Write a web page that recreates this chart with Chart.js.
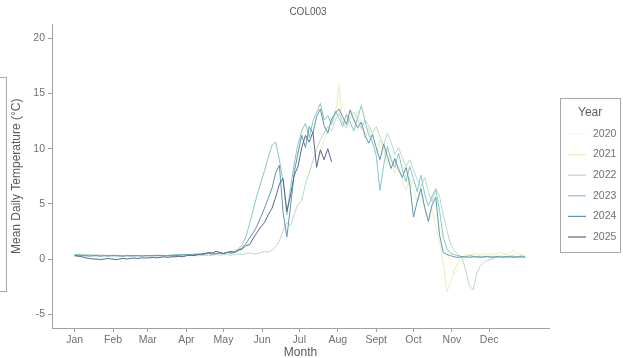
<!DOCTYPE html>
<html>
<head>
<meta charset="utf-8">
<script src="https://cdn.jsdelivr.net/npm/chart.js@4.4.1/dist/chart.umd.min.js"></script>
<style>
  html, body { margin: 0; padding: 0; background: #ffffff; }
  #wrap { width: 623px; height: 358px; }
</style>
</head>
<body>
<div id="wrap"><canvas id="c" width="623" height="358"></canvas></div>
<script>
// Site COL003: mean daily water temperature by year, sampled every 3rd day of the year
const years = ['2020', '2021', '2022', '2023', '2024', '2025'];
const yearColors = ['#f5f6e0', '#eaedc6', '#b9d8ca', '#86c8c6', '#6095ad', '#5d6487'];

const monthLabels = ['Jan', 'Feb', 'Mar', 'Apr', 'May', 'Jun', 'Jul', 'Aug', 'Sept', 'Oct', 'Nov', 'Dec'];
const monthStartDays = [1, 32, 60, 91, 121, 152, 182, 213, 244, 274, 305, 335];
const yTicks = [-5, 0, 5, 10, 15, 20];

const sampleStep = 3;

// first sampled day of year for each series
const startDay2020 = 214;
const startDay2021 = 199;
const startDay2022 = 1;
const startDay2023 = 1;
const startDay2024 = 1;
const startDay2025 = 1;

const temp2020 = [
  13.0, 14.2, 12.8, 13.6, 12.9, 11.7, 12.6, 11.3, 12.0, 10.9,
  11.5, 10.2, 9.1, 10.0, 8.7, 9.3, 7.9, 8.6, 7.4, 6.5,
  7.2, 6.3, 5.1, 5.8, 4.4, 3.5, 4.1, 2.8, 1.9, 0.8, -0.5,
  -1.5, -0.8, 0.1, 0.3, 0.4, 0.3, 0.5, 0.4, 0.3, 0.4,
  0.3, 0.4, 0.3, 0.5, 0.4, 0.3, 0.4, 0.5, 0.3, 0.3
];

const temp2021 = [
  9.5, 10.8, 11.6, 12.4, 13.0,
  15.8, 12.2, 13.1, 11.8, 12.5, 13.4, 12.2, 10.9, 11.8, 10.5,
  9.6, 10.8, 9.9, 8.6, 9.4, 7.8, 8.5, 7.1, 6.2, 7.3,
  6.4, 5.2, 6.0, 4.6, 3.8, 4.5, 2.9, 1.6, -0.4, -3.0, -2.0,
  -1.0, -0.3, 0.2, 0.4, 0.3, 0.5, 0.4, 0.3, 0.5, 0.4,
  0.5, 0.4, 0.6, 0.5, 0.4, 0.6, 0.8, 0.5, 0.4, 0.3
];

const temp2022 = [
  0.4, 0.4, 0.45, 0.4, 0.4, 0.35, 0.4, 0.35, 0.35, 0.3, 0.35,
  0.35, 0.3, 0.3, 0.35, 0.3, 0.3, 0.3, 0.35, 0.3,
  0.3, 0.3, 0.25, 0.3, 0.3, 0.3, 0.25, 0.3, 0.3, 0.3,
  0.3, 0.3, 0.35, 0.3, 0.3, 0.35, 0.3, 0.35, 0.4, 0.35,
  0.4, 0.4, 0.35, 0.4, 0.45, 0.4, 0.5, 0.55, 0.45, 0.5, 0.6,
  0.7, 0.6, 0.8, 1.1, 1.6, 2.6, 3.3, 3.0, 4.1, 5.0,
  5.3, 6.8, 7.8, 8.9, 10.0, 10.8, 11.4, 12.0, 11.6, 12.6,
  13.2, 12.4, 11.9, 12.9, 13.3, 12.7, 11.8, 12.6, 12.1, 11.4,
  12.0, 11.1, 10.3, 11.4, 10.6, 9.5, 10.1, 9.2, 8.4, 9.0,
  8.1, 7.2, 6.5, 7.4, 6.1, 5.2, 6.4, 5.7, 4.0, 2.6, 1.3,
  0.8, 0.4, 0.2, -1.0, -2.4, -2.8, -1.3, -0.6, -0.3, -0.1,
  0.0, 0.1, 0.2, 0.25, 0.2, 0.3, 0.25, 0.2, 0.3, 0.2
];

const temp2023 = [
  0.4, 0.4, 0.35, 0.3, 0.35, 0.3, 0.3, 0.3, 0.3, 0.25, 0.3,
  0.3, 0.25, 0.3, 0.3, 0.25, 0.3, 0.3, 0.3, 0.3,
  0.3, 0.3, 0.3, 0.35, 0.3, 0.3, 0.35, 0.4, 0.4, 0.35,
  0.4, 0.4, 0.45, 0.4, 0.45, 0.5, 0.5, 0.45, 0.5, 0.5,
  0.5, 0.6, 0.5, 0.7, 0.9, 1.3, 2.0, 3.2, 4.5, 5.8, 6.9,
  8.0, 9.2, 10.3, 10.6, 9.0, 7.0, 4.0, 6.5, 8.7, 10.4,
  11.6, 12.3, 11.0, 12.5, 13.3, 14.1, 12.6, 13.0, 12.2, 13.4,
  12.8, 12.0, 13.1, 12.4, 11.6, 12.8, 13.9, 12.5, 11.2, 10.6,
  9.4, 6.2, 8.5, 10.2, 9.0, 8.3, 9.6, 8.1, 7.0, 8.4,
  7.3, 6.1, 7.6, 5.9, 4.8, 5.7, 6.3, 4.4, 2.0, 0.9, 0.5,
  0.4, 0.3, 0.2, 0.2, 0.3, 0.25, 0.2, 0.2, 0.2, 0.25,
  0.2, 0.2, 0.25, 0.2, 0.2, 0.2, 0.2, 0.2, 0.2, 0.2
];

const temp2024 = [
  0.3, 0.35, 0.3, 0.3, 0.25, 0.3, 0.3, 0.25, 0.3, 0.3, 0.3,
  0.3, 0.3, 0.25, 0.3, 0.3, 0.3, 0.3, 0.25, 0.3,
  0.3, 0.3, 0.35, 0.3, 0.3, 0.3, 0.35, 0.3, 0.35, 0.4,
  0.4, 0.35, 0.4, 0.45, 0.4, 0.45, 0.5, 0.45, 0.5, 0.55,
  0.5, 0.6, 0.55, 0.6, 0.8, 1.0, 1.4, 1.9, 2.4, 3.0, 3.8,
  4.6, 5.5, 6.4, 7.8, 8.5, 4.2, 2.0, 4.8, 7.9, 9.6,
  11.2, 10.1, 12.0, 11.4, 12.9, 13.6, 12.1, 11.4, 12.7, 13.2,
  13.6, 12.9, 12.2, 13.5, 12.6, 11.9, 12.4, 11.2, 10.5, 11.3,
  10.1, 9.0, 10.4, 9.3, 8.2, 9.1, 8.1, 7.4, 8.3, 6.8,
  3.8, 5.2, 6.4, 4.7, 3.4, 4.9, 5.6, 2.2, 0.6, 0.4, 0.3,
  0.2, 0.15, 0.2, 0.2, 0.15, 0.2, 0.2, 0.15, 0.2, 0.2,
  0.15, 0.2, 0.2, 0.15, 0.2, 0.2, 0.15, 0.2, 0.2, 0.15
];

const temp2025 = [
  0.3, 0.25, 0.2, 0.1, 0.05, 0.0, 0.0, -0.05, 0.0, 0.05, 0.0,
  -0.05, 0.0, 0.05, 0.0, 0.05, 0.1, 0.05, 0.1, 0.1,
  0.1, 0.15, 0.1, 0.15, 0.2, 0.15, 0.2, 0.2, 0.25, 0.2,
  0.3, 0.35, 0.3, 0.4, 0.45, 0.5, 0.6, 0.55, 0.7, 0.6,
  0.5, 0.6, 0.7, 0.6, 0.8, 0.9, 1.2, 1.3, 1.9, 2.4, 2.9,
  3.3, 4.0, 4.6, 5.6, 6.8, 7.3, 4.3, 5.8, 7.6, 8.4,
  10.1, 11.2, 10.6, 11.5, 8.3, 9.9, 9.0, 10.0, 8.8
];

const seriesValues = [temp2020, temp2021, temp2022, temp2023, temp2024, temp2025];
const seriesStart = [startDay2020, startDay2021, startDay2022, startDay2023, startDay2024, startDay2025];

function toPoints(values, firstDay) {
  return values.map((v, k) => ({ x: firstDay + k * sampleStep, y: v }));
}

const datasets = years.map((yr, i) => ({
  label: yr,
  data: toPoints(seriesValues[i], seriesStart[i]),
  borderColor: yearColors[i],
  backgroundColor: yearColors[i],
  borderWidth: 1,
  pointRadius: 0,
  tension: 0,
  fill: false,
  order: years.length - i
}));

const axisGray = '#a0a0a0';
const tickText = '#707070';
const titleText = '#5a5a5a';
const fontFamily = "'Liberation Sans', Arial, sans-serif";

// Year legend, the site title and the frame of the neighbouring panel
const decorations = {
  id: 'decorations',
  afterDraw(chart) {
    const ctx = chart.ctx;
    ctx.save();

    ctx.fillStyle = titleText;
    ctx.font = "10px " + fontFamily;
    ctx.textAlign = 'center';
    ctx.textBaseline = 'middle';
    ctx.fillText('COL003', 308, 12);

    ctx.strokeStyle = '#a8a8a8';
    ctx.lineWidth = 1;
    ctx.strokeRect(-60.5, 77.5, 67, 214);

    const box = { x: 560.5, y: 98.5, w: 60, h: 154 };
    ctx.strokeRect(box.x, box.y, box.w, box.h);

    ctx.fillStyle = titleText;
    ctx.font = "12px " + fontFamily;
    ctx.textAlign = 'left';
    ctx.fillText('Year', 578, 113);

    ctx.font = "10.5px " + fontFamily;
    chart.data.datasets.forEach((ds, i) => {
      const yy = 134 + i * 20.6;
      ctx.strokeStyle = ds.borderColor;
      ctx.lineWidth = 1.2;
      ctx.beginPath();
      ctx.moveTo(568, yy);
      ctx.lineTo(586, yy);
      ctx.stroke();
      ctx.fillStyle = tickText;
      ctx.fillText(ds.label, 593, yy);
    });
    ctx.restore();
  }
};

new Chart(document.getElementById('c'), {
  type: 'line',
  data: { datasets },
  plugins: [decorations],
  options: {
    responsive: false,
    animation: false,
    devicePixelRatio: 1,
    layout: { padding: { left: 0, right: 74, top: 24.5, bottom: 0 } },
    plugins: {
      legend: { display: false },
      tooltip: { enabled: false },
      title: { display: false }
    },
    scales: {
      x: {
        type: 'linear',
        min: -17.2,
        max: 383.2,
        afterFit(scale) { scale.height = 30; },
        afterBuildTicks(scale) { scale.ticks = monthStartDays.map(v => ({ value: v })); },
        grid: { drawOnChartArea: false, drawTicks: true, tickLength: 4, color: axisGray },
        border: { display: true, color: axisGray, width: 1 },
        ticks: {
          autoSkip: false,
          maxRotation: 0,
          padding: 2,
          color: tickText,
          font: { family: fontFamily, size: 10.5 },
          callback(value) {
            const k = monthStartDays.indexOf(value);
            return k >= 0 ? monthLabels[k] : '';
          }
        },
        title: {
          display: true,
          text: 'Month',
          color: titleText,
          font: { family: fontFamily, size: 12 },
          padding: { top: 0, bottom: -2 }
        }
      },
      y: {
        type: 'linear',
        min: -6.25,
        max: 21.25,
        afterFit(scale) { scale.width = 52; },
        afterBuildTicks(scale) { scale.ticks = yTicks.map(v => ({ value: v })); },
        grid: { drawOnChartArea: false, drawTicks: true, tickLength: 4, color: axisGray },
        border: { display: true, color: axisGray, width: 1 },
        ticks: {
          padding: 3,
          color: tickText,
          font: { family: fontFamily, size: 10.5 },
          callback(value) { return String(value); }
        },
        title: {
          display: true,
          text: 'Mean Daily Temperature (°C)',
          color: titleText,
          font: { family: fontFamily, size: 12 },
          padding: { top: 9.5, bottom: 0 }
        }
      }
    }
  }
});
</script>
</body>
</html>
